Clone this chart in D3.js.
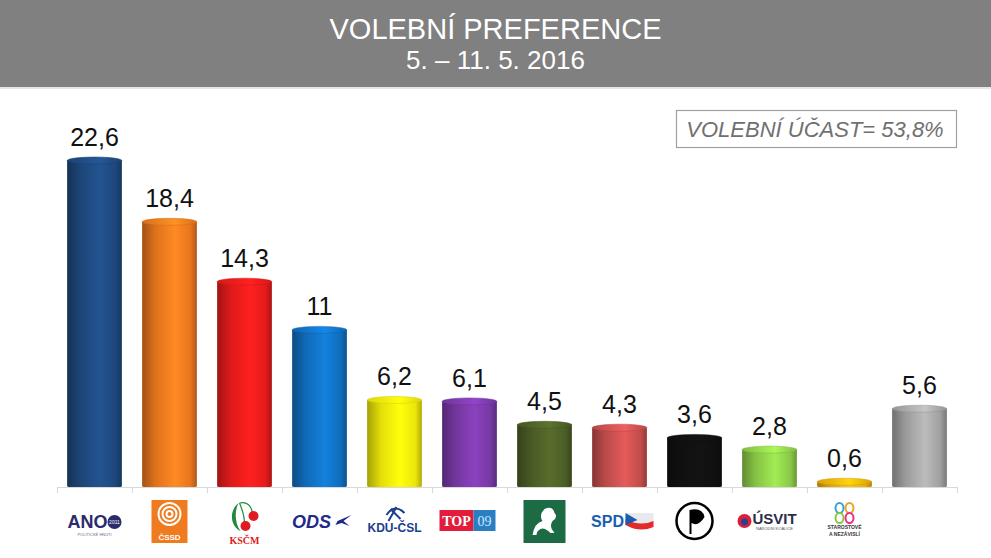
<!DOCTYPE html>
<html>
<head>
<meta charset="utf-8">
<script src="https://cdn.jsdelivr.net/npm/d3@7"></script>
<style>
  html, body { margin: 0; padding: 0; background: #fff; }
  svg { display: block; font-family: 'Liberation Sans', Arial, sans-serif; }
</style>
</head>
<body>
<div id="chart"></div>
<script>
const parties = ['ANO', 'ČSSD', 'KSČM', 'ODS', 'KDU-ČSL', 'TOP 09', 'Svobodní', 'SPD', 'Piráti', 'Úsvit', 'STAN', 'Ostatní'];
const values = [22.6, 18.4, 14.3, 11, 6.2, 6.1, 4.5, 4.3, 3.6, 2.8, 0.6, 5.6];
const colors = ['#1f4a80', '#f07a1e', '#ee1c1c', '#1172c4', '#f4ee0a', '#7b3aa9', '#4e6027', '#c9504f', '#111111', '#8fd04a', '#f1b20a', '#a6a6a6'];
const title = 'VOLEBNÍ PREFERENCE';
const subtitle = '5. – 11. 5. 2016';
const turnout = 'VOLEBNÍ ÚČAST= 53,8%';

const W = 991, H = 558;
const margin = { left: 57, right: 34, base: 487 };

const svg = d3.select('#chart').append('svg').attr('width', W).attr('height', H);
const defs = svg.append('defs');

// header band
svg.append('rect').attr('x', 0).attr('y', 0).attr('width', W).attr('height', 87).attr('fill', '#808080');
svg.append('rect').attr('x', 0).attr('y', 87).attr('width', W).attr('height', 2).attr('fill', '#e6e6e6');
svg.append('text').attr('x', W / 2).attr('y', 39).attr('text-anchor', 'middle')
  .attr('fill', '#fff').style('font-size', '29px').text(title);
svg.append('text').attr('x', W / 2).attr('y', 69).attr('text-anchor', 'middle')
  .attr('fill', '#fff').style('font-size', '26px').text(subtitle);

// turnout box
svg.append('rect').attr('x', 676.5).attr('y', 110.5).attr('width', 280).attr('height', 37)
  .attr('fill', '#fff').attr('stroke', '#a0a0a0').attr('stroke-width', 1.2);
svg.append('text').attr('x', 815).attr('y', 137).attr('text-anchor', 'middle')
  .attr('fill', '#707070').style('font-size', '22px').style('font-style', 'italic').text(turnout);

const x = d3.scaleBand().domain(parties).range([margin.left, W - margin.right])
  .paddingInner(0.27).paddingOuter(0.135);
const y = d3.scaleLinear().domain([0, 25]).range([margin.base, margin.base - 330 * 25 / 22.6]);

// cylinder gradients
colors.forEach((c, i) => {
  const g = defs.append('linearGradient').attr('id', `cyl-${i}`)
    .attr('x1', '0%').attr('x2', '100%').attr('y1', '0%').attr('y2', '0%');
  g.append('stop').attr('offset', '0%').attr('stop-color', d3.color(c).darker(1.1));
  g.append('stop').attr('offset', '25%').attr('stop-color', d3.color(c).darker(0.2));
  g.append('stop').attr('offset', '60%').attr('stop-color', d3.color(c).brighter(0.35));
  g.append('stop').attr('offset', '88%').attr('stop-color', d3.color(c).darker(0.1));
  g.append('stop').attr('offset', '100%').attr('stop-color', d3.color(c).darker(0.9));
  const t = defs.append('linearGradient').attr('id', `top-${i}`)
    .attr('x1', '0%').attr('x2', '100%');
  t.append('stop').attr('offset', '0%').attr('stop-color', d3.color(c).darker(0.3));
  t.append('stop').attr('offset', '60%').attr('stop-color', d3.color(c).brighter(0.5));
  t.append('stop').attr('offset', '100%').attr('stop-color', d3.color(c).darker(0.3));
});

// axis
const axis = svg.append('g').attr('class', 'axis');
axis.append('line').attr('x1', x.range()[0]).attr('x2', x.range()[1])
  .attr('y1', margin.base + 0.5).attr('y2', margin.base + 0.5).attr('stroke', '#d9d9d9');
const step = x.step();
axis.selectAll('line.tick').data(d3.range(parties.length + 1)).join('line')
  .attr('class', 'tick')
  .attr('x1', (d) => x.range()[0] + d * step + 0.5).attr('x2', (d) => x.range()[0] + d * step + 0.5)
  .attr('y1', margin.base).attr('y2', margin.base + 6).attr('stroke', '#d9d9d9');

const data = parties.map((p, i) => ({ p, v: values[i], i }));
const ry = 3.5;
const bars = svg.append('g').selectAll('g.bar').data(data).join('g').attr('class', 'bar');
bars.append('path')
  .attr('d', (d) => {
    const x0 = x(d.p), w = x.bandwidth(), top = y(d.v) + ry, b = margin.base;
    return `M${x0},${top} L${x0},${b - 1} Q${x0},${b} ${x0 + 2},${b} L${x0 + w - 2},${b} Q${x0 + w},${b} ${x0 + w},${b - 1} L${x0 + w},${top} Z`;
  })
  .attr('fill', (d) => `url(#cyl-${d.i})`);
bars.append('ellipse')
  .attr('cx', (d) => x(d.p) + x.bandwidth() / 2).attr('cy', (d) => y(d.v) + ry)
  .attr('rx', x.bandwidth() / 2).attr('ry', ry)
  .attr('fill', (d) => `url(#top-${d.i})`)
  .attr('stroke', (d) => d3.color(colors[d.i]).darker(0.4)).attr('stroke-width', 0.5);
bars.append('text')
  .attr('x', (d) => x(d.p) + x.bandwidth() / 2).attr('y', (d) => y(d.v) - 11)
  .attr('text-anchor', 'middle').attr('fill', '#111').style('font-size', '25px')
  .text((d) => String(d.v).replace('.', ','));

// party logos (simplified)
const logos = svg.append('g').attr('class', 'logos');
const cx = (i) => x(parties[i]) + x.bandwidth() / 2;
const ly = 521;

// ANO
{
  const g = logos.append('g').attr('transform', `translate(${cx(0)},${ly})`);
  g.append('text').attr('x', -27).attr('y', 7).attr('text-anchor', 'start')
    .attr('fill', '#2b2a6b').style('font-size', '18px').style('font-weight', 'bold').text('ANO');
  g.append('circle').attr('cx', 20).attr('cy', 1).attr('r', 7).attr('fill', '#2b2a6b');
  g.append('text').attr('x', 20).attr('y', 3).attr('text-anchor', 'middle').attr('fill', '#fff')
    .style('font-size', '5px').text('2011');
  g.append('text').attr('x', 0).attr('y', 15).attr('text-anchor', 'middle').attr('fill', '#6a6a8a')
    .style('font-size', '4px').text('POLITICKÉ HNUTÍ');
}
// ČSSD
{
  const g = logos.append('g').attr('transform', `translate(${cx(1)},${ly})`);
  g.append('rect').attr('x', -18).attr('y', -21).attr('width', 36).attr('height', 43).attr('fill', '#f07a1e');
  [11, 7, 3].forEach((r) => g.append('circle').attr('cx', 0).attr('cy', -7).attr('r', r)
    .attr('fill', 'none').attr('stroke', '#fff').attr('stroke-width', 2));
  g.append('text').attr('x', 0).attr('y', 19).attr('text-anchor', 'middle').attr('fill', '#fff')
    .style('font-size', '8px').style('font-weight', 'bold').text('ČSSD');
}
// KSČM
{
  const g = logos.append('g').attr('transform', `translate(${cx(2)},${ly})`);
  g.append('path').attr('d', 'M-6,-18 C-16,-10 -14,6 -4,10 C-10,2 -10,-10 -6,-18 Z').attr('fill', '#1e8a3a');
  g.append('path').attr('d', 'M-5,-18 Q6,-20 8,-8 M-5,-18 Q0,-6 0,2').attr('fill', 'none').attr('stroke', '#1e8a3a').attr('stroke-width', 1.2);
  g.append('circle').attr('cx', 9).attr('cy', -5).attr('r', 5).attr('fill', '#e01b22');
  g.append('circle').attr('cx', 1).attr('cy', 5).attr('r', 5).attr('fill', '#e01b22');
  g.append('text').attr('x', 0).attr('y', 23).attr('text-anchor', 'middle').attr('fill', '#e01b22')
    .style('font-size', '10px').style('font-family', "'Liberation Serif', serif").style('font-weight', 'bold').text('KSČM');
}
// ODS
{
  const g = logos.append('g').attr('transform', `translate(${cx(3)},${ly})`);
  g.append('text').attr('x', -8).attr('y', 7).attr('text-anchor', 'middle').attr('fill', '#1f2a8a')
    .style('font-size', '18px').style('font-weight', 'bold').style('font-style', 'italic').text('ODS');
  g.append('path').attr('d', 'M18,0 L32,-6 L24,0 L30,5 L22,2 L16,4 Z').attr('fill', '#1f2a8a');
}
// KDU-ČSL
{
  const g = logos.append('g').attr('transform', `translate(${cx(4)},${ly})`);
  g.append('path').attr('d', 'M-8,-6 Q0,-18 10,-8 M-4,-12 L6,-2 M2,-14 L-6,0').attr('fill', 'none')
    .attr('stroke', '#1b3e8f').attr('stroke-width', 2);
  g.append('text').attr('x', 0).attr('y', 11).attr('text-anchor', 'middle').attr('fill', '#1b3e8f')
    .style('font-size', '12px').style('font-weight', 'bold').text('KDU-ČSL');
}
// TOP 09
{
  const g = logos.append('g').attr('transform', `translate(${cx(5)},${ly})`);
  g.append('rect').attr('x', -30).attr('y', -11).attr('width', 34).attr('height', 21).attr('fill', '#e11d3b');
  g.append('rect').attr('x', 4).attr('y', -11).attr('width', 22).attr('height', 21).attr('fill', '#2a7fc4');
  g.append('text').attr('x', -13).attr('y', 5).attr('text-anchor', 'middle').attr('fill', '#fff')
    .style('font-size', '14px').style('font-family', "'Liberation Serif', serif").style('font-weight', 'bold').text('TOP');
  g.append('text').attr('x', 15).attr('y', 5).attr('text-anchor', 'middle').attr('fill', '#cfe6ff')
    .style('font-size', '14px').style('font-family', "'Liberation Serif', serif").text('09');
}
// Svobodní (green square with ram)
{
  const g = logos.append('g').attr('transform', `translate(${cx(6)},${ly})`);
  g.append('rect').attr('x', -21).attr('y', -21).attr('width', 42).attr('height', 43).attr('fill', '#1c6b45');
  g.append('path').attr('d', 'M-12,14 Q-10,2 -2,0 Q-6,-6 0,-12 Q8,-16 10,-8 Q14,-4 8,0 Q4,6 10,12 L6,12 Q0,6 -4,8 Q-8,10 -8,14 Z')
    .attr('fill', '#fff');
}
// SPD
{
  const g = logos.append('g').attr('transform', `translate(${cx(7)},${ly})`);
  g.append('text').attr('x', -12).attr('y', 6).attr('text-anchor', 'middle').attr('fill', '#1a5db0')
    .style('font-size', '16px').style('font-weight', 'bold').text('SPD');
  g.append('path').attr('d', 'M6,-8 L34,-8 L34,6 Q22,10 6,2 Z').attr('fill', '#e8e8ee');
  g.append('path').attr('d', 'M6,-2 Q20,6 34,0 L34,6 Q20,12 6,4 Z').attr('fill', '#e32b2b');
  g.append('path').attr('d', 'M6,-8 L18,-1 L6,4 Z').attr('fill', '#1a5db0');
}
// Piráti
{
  const g = logos.append('g').attr('transform', `translate(${cx(8)},${ly})`);
  g.append('circle').attr('r', 18).attr('fill', '#fff').attr('stroke', '#000').attr('stroke-width', 2.5);
  g.append('path').attr('d', 'M-5,13 L-5,-11 Q8,-14 10,-4 Q4,6 -3,2 L-3,13 Z').attr('fill', '#000');
}
// Úsvit
{
  const g = logos.append('g').attr('transform', `translate(${cx(9)},${ly})`);
  g.append('circle').attr('cx', -25).attr('cy', 0).attr('r', 7).attr('fill', '#d8203a');
  g.append('circle').attr('cx', -25).attr('cy', 1).attr('r', 3.5).attr('fill', '#2b3f8f');
  g.append('text').attr('x', 5).attr('y', 3).attr('text-anchor', 'middle').attr('fill', '#2b2e4a')
    .style('font-size', '15px').style('font-weight', 'bold').text('ÚSVIT');
  g.append('text').attr('x', 5).attr('y', 9).attr('text-anchor', 'middle').attr('fill', '#555')
    .style('font-size', '4px').text('NÁRODNÍ KOALICE');
}
// STAN
{
  const g = logos.append('g').attr('transform', `translate(${cx(10)},${ly})`);
  const petals = [['#3aa0d8', -5, -13], ['#f0a020', 5, -13], ['#8cc63f', -5, -3], ['#e8308a', 5, -3]];
  petals.forEach(([c, px, py]) => g.append('ellipse').attr('cx', px).attr('cy', py).attr('rx', 4).attr('ry', 5)
    .attr('fill', 'none').attr('stroke', c).attr('stroke-width', 2));
  g.append('text').attr('x', 0).attr('y', 8).attr('text-anchor', 'middle').attr('fill', '#333')
    .style('font-size', '5px').style('font-weight', 'bold').text('STAROSTOVÉ');
  g.append('text').attr('x', 0).attr('y', 15).attr('text-anchor', 'middle').attr('fill', '#333')
    .style('font-size', '5px').style('font-weight', 'bold').text('A NEZÁVISLÍ');
}
</script>
</body>
</html>
